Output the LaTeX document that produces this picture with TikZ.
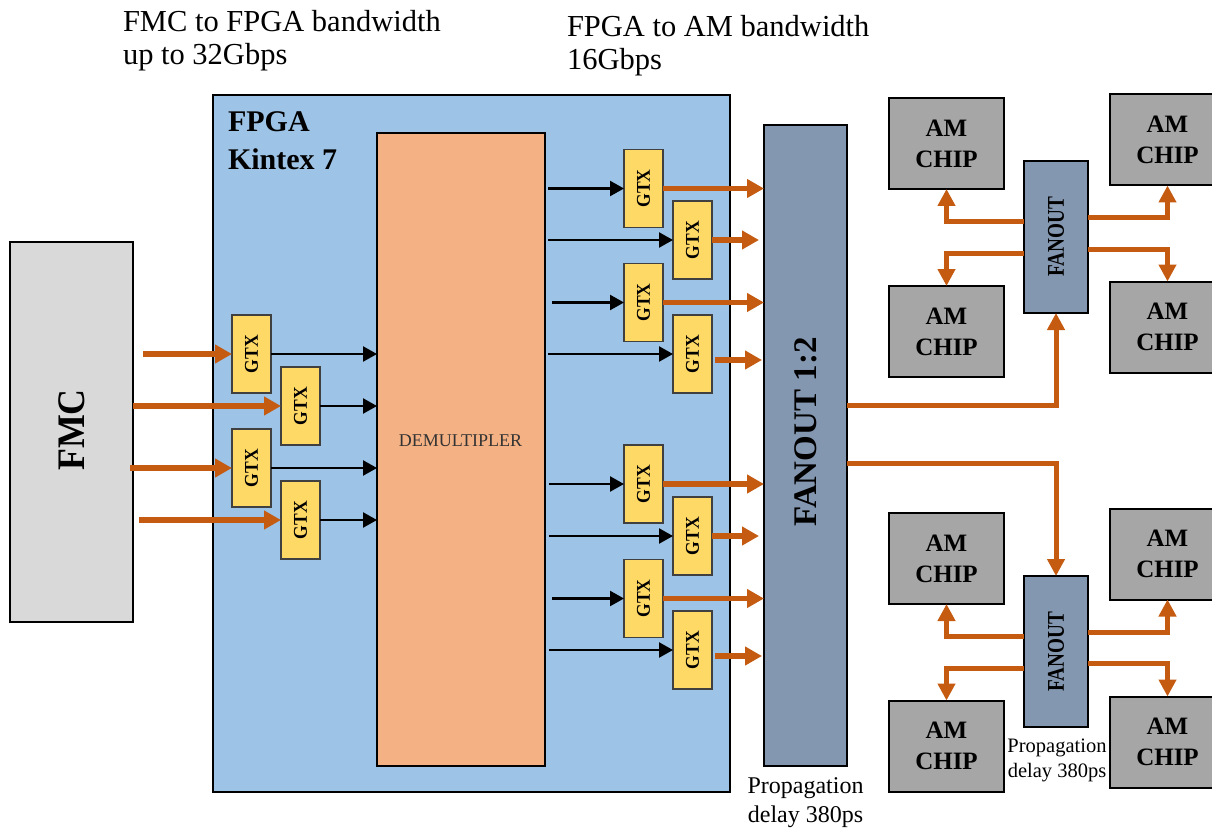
\documentclass[tikz,border=0pt]{standalone}
\usepackage{fontspec}
\setmainfont{Liberation Serif}
\usetikzlibrary{arrows.meta}
\definecolor{ocol}{HTML}{C55A11}
\definecolor{fmcfill}{HTML}{D9D9D9}
\definecolor{fpgafill}{HTML}{9DC3E6}
\definecolor{demfill}{HTML}{F4B183}
\definecolor{gtxfill}{HTML}{FFD966}
\definecolor{fofill}{HTML}{8497B0}
\definecolor{amfill}{HTML}{A6A6A6}
\newcommand{\fsz}[2]{\fontsize{#1}{#2}\selectfont}
\newcommand{\gtxlabel}{\rotatebox{90}{\scalebox{0.9}[1]{GTX}}}
\begin{document}
\begin{tikzpicture}[x=1pt,y=-1pt,
  blk/.style={draw=black, line width=2pt, inner sep=0pt, outer sep=0pt},
  gtx/.style={draw=black!75, line width=1.3pt, fill=gtxfill, minimum width=39pt, minimum height=78pt, inner sep=0pt, outer sep=0pt, font=\bfseries\fsz{19.5}{19.5}},
  amchip/.style={blk, fill=amfill, minimum width=115pt, minimum height=91pt, align=center, font=\bfseries\fsz{25}{31}},
  smallfo/.style={blk, fill=fofill, minimum width=64pt, minimum height=152pt, font=\bfseries\fsz{24}{24}},
  txt/.style={inner sep=0pt, outer sep=0pt},
  oarr/.style={draw=ocol, line width=5.5pt, -{Triangle[length=17pt,width=18pt]}},
  farr/.style={draw=ocol, line width=5pt, -{Triangle[length=17pt,width=17pt]}},
  barr/.style={draw=black, line width=2.3pt, -{Triangle[length=14pt,width=15pt]}}
]
\useasboundingbox (0,0) rectangle (1212,829);
\clip (0,0) rectangle (1212,829);

% top labels
\node[txt, anchor=base west, font=\fsz{30.5}{30.5}] (t1a) at (123,32) {FMC to FPGA bandwidth};
\node[txt, anchor=base west, font=\fsz{30.5}{30.5}] (t1b) at (123,65) {up to 32Gbps};
\node[txt, anchor=base west, font=\fsz{30.5}{30.5}] (t2a) at (567,37) {FPGA to AM bandwidth};
\node[txt, anchor=base west, font=\fsz{30.5}{30.5}] (t2b) at (567,70) {16Gbps};

% main blocks
\node[blk, fill=fmcfill, minimum width=123pt, minimum height=380pt] (FMC) at (71.5,432) {};
\node[txt, font=\bfseries\fsz{39}{39}] (fmct) at (72,430) {\rotatebox{90}{\scalebox{0.92}[1]{FMC}}};
\node[blk, fill=fpgafill, minimum width=517pt, minimum height=697pt] (FPGA) at (471.5,443.5) {};
\node[txt, anchor=base west, font=\bfseries\fsz{30}{30}] (fpgat1) at (228,132) {FPGA};
\node[txt, anchor=base west, font=\bfseries\fsz{30}{30}] (fpgat2) at (228,170) {Kintex 7};
\node[blk, fill=demfill, minimum width=168pt, minimum height=633pt] (DEM) at (461,449.5) {};
\node[txt, anchor=base, font=\fsz{18}{18}, text=black!80] (demt) at (460.5,446) {DEMULTIPLER};
\node[blk, fill=fofill, minimum width=83pt, minimum height=641pt] (FO) at (805.5,445.5) {};
\node[txt, font=\bfseries\fsz{33}{33}] (fot) at (806,432) {\rotatebox{90}{FANOUT 1:2}};

% left GTX
\node[gtx] (g1) at (251.5,354) {\gtxlabel};
\node[gtx] (g2) at (300.5,406) {\gtxlabel};
\node[gtx] (g3) at (251.5,468) {\gtxlabel};
\node[gtx] (g4) at (300.5,520) {\gtxlabel};

% right GTX
\node[gtx] (gA) at (643.5,188.5) {\gtxlabel};
\node[gtx] (gB) at (692.5,240) {\gtxlabel};
\node[gtx] (gC) at (643.5,302.5) {\gtxlabel};
\node[gtx] (gD) at (692.5,354) {\gtxlabel};
\node[gtx] (gE) at (643.5,484) {\gtxlabel};
\node[gtx] (gF) at (692.5,536) {\gtxlabel};
\node[gtx] (gG) at (643.5,598.5) {\gtxlabel};
\node[gtx] (gH) at (692.5,650) {\gtxlabel};

% FMC -> GTX
\draw[oarr, shorten <=10pt] (FMC.east |- g1.west) -- (g1.west);
\draw[oarr] (FMC.east |- g2.west) -- (g2.west);
\draw[oarr, shorten <=-3pt] (FMC.east |- g3.west) -- (g3.west);
\draw[oarr, shorten <=6pt] (FMC.east |- g4.west) -- (g4.west);
% GTX -> DEM
\draw[barr] (g1.east) -- (DEM.west |- g1.east);
\draw[barr] (g2.east) -- (DEM.west |- g2.east);
\draw[barr] (g3.east) -- (DEM.west |- g3.east);
\draw[barr] (g4.east) -- (DEM.west |- g4.east);
% DEM -> right GTX
\draw[barr, shorten <=3pt] (DEM.east |- gA.west) -- (gA.west);
\draw[barr, shorten <=3pt] (DEM.east |- gB.west) -- (gB.west);
\draw[barr, shorten <=7pt] (DEM.east |- gC.west) -- (gC.west);
\draw[barr, shorten <=3pt] (DEM.east |- gD.west) -- (gD.west);
\draw[barr, shorten <=4pt] (DEM.east |- gE.west) -- (gE.west);
\draw[barr, shorten <=4pt] (DEM.east |- gF.west) -- (gF.west);
\draw[barr, shorten <=7pt] (DEM.east |- gG.west) -- (gG.west);
\draw[barr, shorten <=4pt] (DEM.east |- gH.west) -- (gH.west);
% right GTX -> FANOUT
\coordinate (dD) at ([yshift=-6pt]gD.east);
\coordinate (dH) at ([yshift=-6pt]gH.east);
\draw[oarr] (gA.east) -- (FO.west |- gA.east);
\draw[oarr, shorten >=5pt] (gB.east) -- (FO.west |- gB.east);
\draw[oarr] (gC.east) -- (FO.west |- gC.east);
\draw[oarr, shorten <=3pt, shorten >=2pt] (dD) -- (dD -| FO.west);
\draw[oarr] (gE.east) -- (FO.west |- gE.east);
\draw[oarr, shorten >=5pt] (gF.east) -- (FO.west |- gF.east);
\draw[oarr] (gG.east) -- (FO.west |- gG.east);
\draw[oarr, shorten <=3pt, shorten >=2pt] (dH) -- (dH -| FO.west);

\node[txt, anchor=base, font=\fsz{24}{24}] (p1a) at (805.5,793) {Propagation};
\node[txt, anchor=base, font=\fsz{24}{24}] (p1b) at (805.5,822) {delay 380ps};

% top AM group
\node[amchip] (AM1) at (946.5,143.5) {AM\\CHIP};
\node[amchip] (AM2) at (1167.5,140) {AM\\CHIP};
\node[amchip] (AM3) at (946.5,331.5) {AM\\CHIP};
\node[amchip] (AM4) at (1167.5,327) {AM\\CHIP};
\node[smallfo] (FO1) at (1056,237) {\rotatebox{90}{\scalebox{0.8}[1]{FANOUT}}};
\draw[farr] (FO1.west |- 0,221) -| (AM1.south);
\draw[farr] (FO1.west |- 0,253) -| (AM3.north);
\draw[farr] (FO1.east |- 0,217) -| (AM2.south);
\draw[farr] (FO1.east |- 0,249) -| (AM4.north);
\draw[farr] (FO.east |- 0,405) -| (FO1.south);

% bottom AM group
\node[amchip] (AM5) at (946.5,558.5) {AM\\CHIP};
\node[amchip] (AM6) at (1167.5,554) {AM\\CHIP};
\node[amchip] (AM7) at (946.5,746) {AM\\CHIP};
\node[amchip] (AM8) at (1167.5,742) {AM\\CHIP};
\node[smallfo, minimum height=151pt] (FO2) at (1056,651.5) {\rotatebox{90}{\scalebox{0.8}[1]{FANOUT}}};
\draw[farr] (FO2.west |- 0,636) -| (AM5.south);
\draw[farr] (FO2.west |- 0,668) -| (AM7.north);
\draw[farr] (FO2.east |- 0,632) -| (AM6.south);
\draw[farr] (FO2.east |- 0,663) -| (AM8.north);
\draw[farr] (FO.east |- 0,463) -| (FO2.north);

\node[txt, anchor=base, font=\fsz{20.5}{20.5}] (p2a) at (1057,752) {Propagation};
\node[txt, anchor=base, font=\fsz{20.5}{20.5}] (p2b) at (1057,777) {delay 380ps};
\end{tikzpicture}
\end{document}
